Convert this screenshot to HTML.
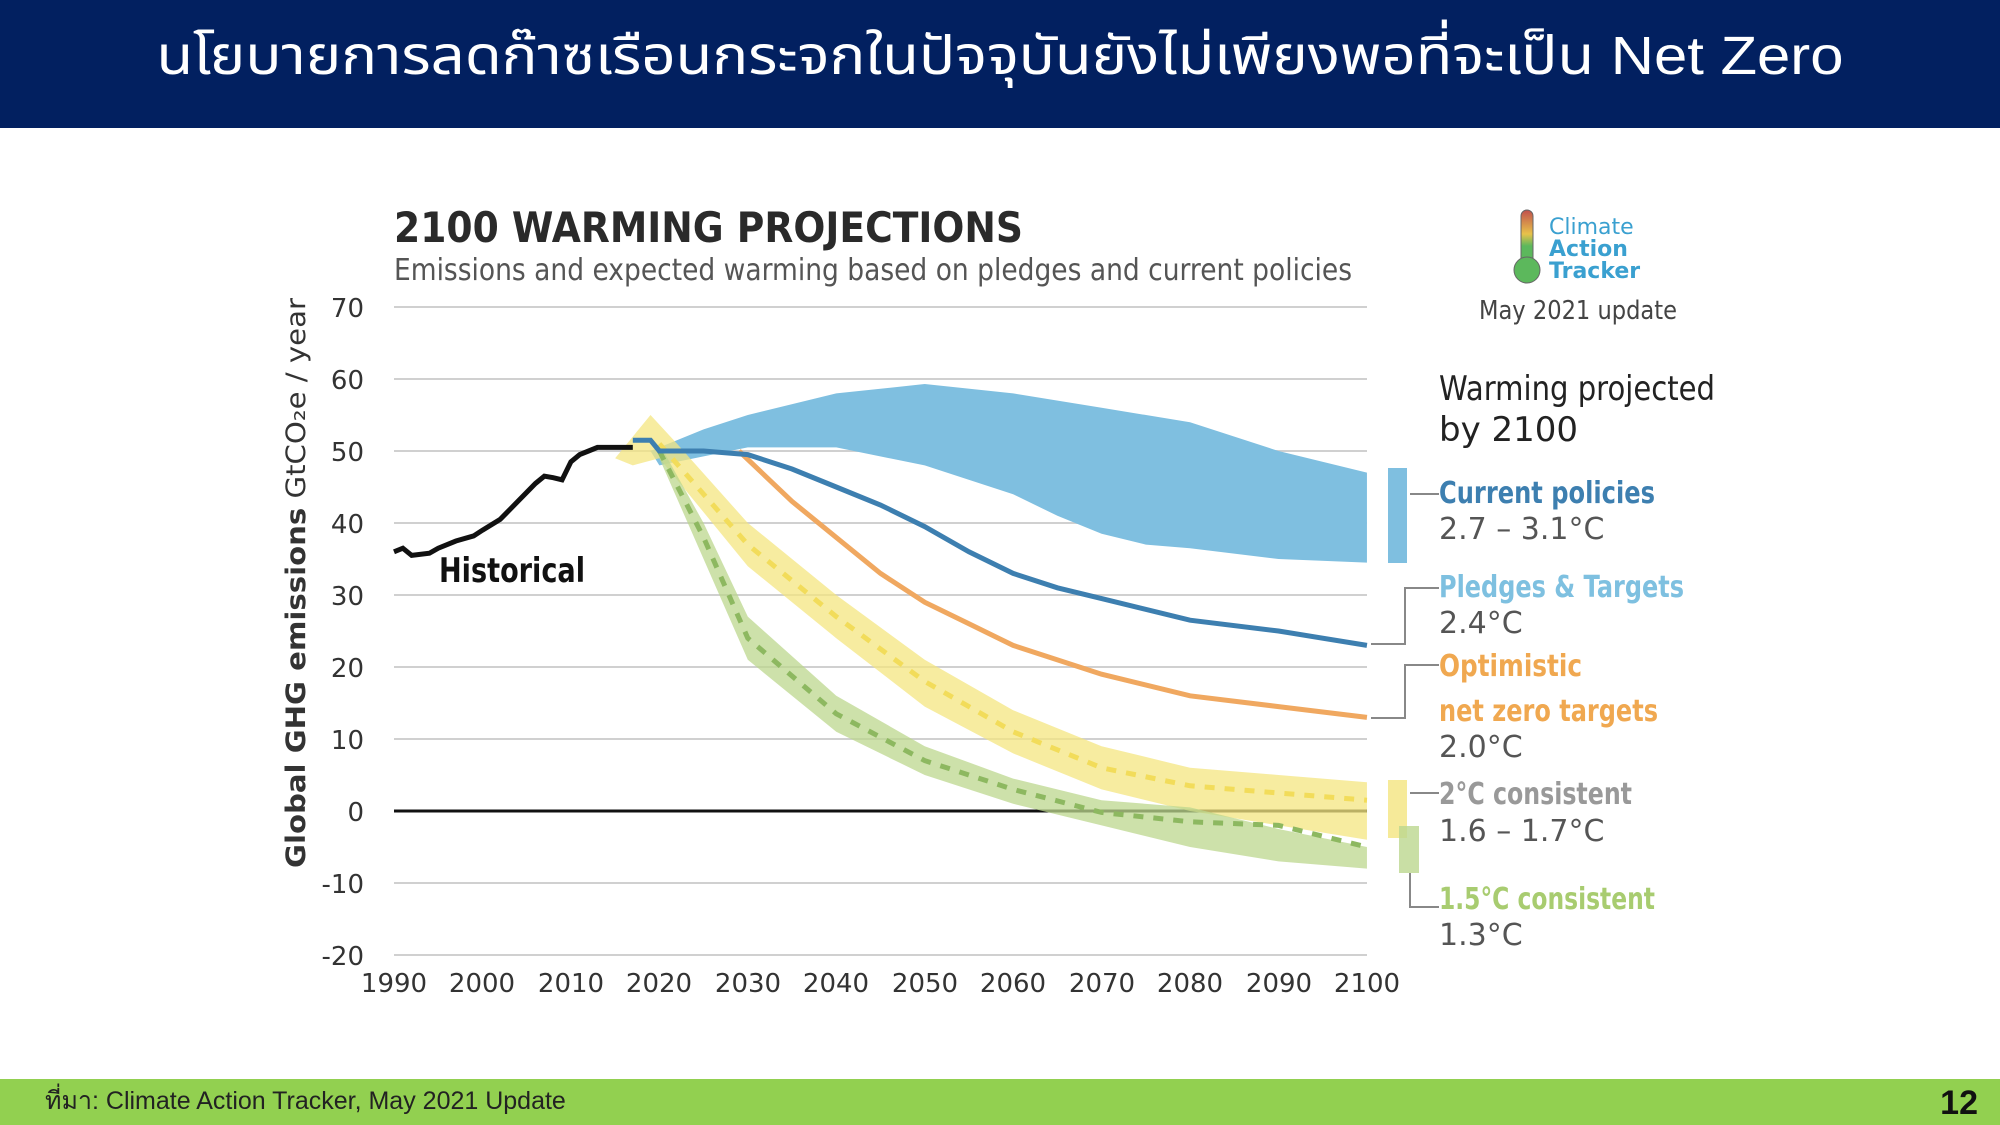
<!DOCTYPE html>
<html><head><meta charset="utf-8"><style>
html,body{margin:0;padding:0;background:#fff;}
svg{display:block;}
text{font-family:"DejaVu Sans","Liberation Sans",sans-serif;}
</style></head><body>
<svg width="2000" height="1125" viewBox="0 0 2000 1125" xmlns="http://www.w3.org/2000/svg">
<rect x="0" y="0" width="2000" height="128" fill="#022060"/>
<text x="1000" y="74" fill="#fff" font-size="54" text-anchor="middle" textLength="1687" lengthAdjust="spacingAndGlyphs" style="font-family:'Liberation Sans','Noto Sans Thai','Garuda',sans-serif">นโยบายการลดก๊าซเรือนกระจกในปัจจุบันยังไม่เพียงพอที่จะเป็น Net Zero</text>
<rect x="0" y="1079" width="2000" height="46" fill="#92d050"/>
<text x="45" y="1109" font-size="25" fill="#222" style="font-family:'Liberation Sans',sans-serif">ที่มา: Climate Action Tracker, May 2021 Update</text>
<text x="1978" y="1114" font-size="34" font-weight="bold" fill="#111" text-anchor="end" style="font-family:'Liberation Sans',sans-serif">12</text>

<text x="394" y="242" font-size="42" font-weight="bold" fill="#2a2a2a" textLength="629" lengthAdjust="spacingAndGlyphs">2100 WARMING PROJECTIONS</text>
<text x="394" y="280" font-size="30" fill="#555" textLength="958" lengthAdjust="spacingAndGlyphs">Emissions and expected warming based on pledges and current policies</text>

<g stroke="#d0d0d0" stroke-width="2">
<line x1="394" x2="1367" y1="307" y2="307"/><line x1="394" x2="1367" y1="379" y2="379"/>
<line x1="394" x2="1367" y1="451" y2="451"/><line x1="394" x2="1367" y1="523" y2="523"/>
<line x1="394" x2="1367" y1="595" y2="595"/><line x1="394" x2="1367" y1="667" y2="667"/>
<line x1="394" x2="1367" y1="739" y2="739"/><line x1="394" x2="1367" y1="883" y2="883"/>
<line x1="394" x2="1367" y1="955" y2="955"/>
</g>
<line x1="394" x2="1367" y1="811" y2="811" stroke="#111" stroke-width="3"/>
<g font-size="26" fill="#333" text-anchor="end">
<text x="364" y="317">70</text><text x="364" y="389">60</text><text x="364" y="461">50</text>
<text x="364" y="533">40</text><text x="364" y="605">30</text><text x="364" y="677">20</text>
<text x="364" y="749">10</text><text x="364" y="821">0</text><text x="364" y="893">-10</text>
<text x="364" y="965">-20</text>
</g>
<g font-size="26" fill="#333" text-anchor="middle">
<text x="394" y="992">1990</text><text x="482" y="992">2000</text><text x="571" y="992">2010</text>
<text x="659" y="992">2020</text><text x="748" y="992">2030</text><text x="836" y="992">2040</text>
<text x="925" y="992">2050</text><text x="1013" y="992">2060</text><text x="1102" y="992">2070</text>
<text x="1190" y="992">2080</text><text x="1279" y="992">2090</text><text x="1367" y="992">2100</text>
</g>
<text transform="translate(305,583) rotate(-90)" font-size="27" fill="#333" text-anchor="middle" textLength="570" lengthAdjust="spacingAndGlyphs"><tspan font-weight="bold">Global GHG emissions</tspan>  GtCO₂e / year</text>

<g transform="translate(394,307) scale(8.845,-7.2) translate(-1990,-70)">
<polygon fill="#7fbfe0" points="2019,50 2025,53 2030,55 2040,58 2050,59.3 2060,58 2070,56 2080,54 2090,50 2100,47 2100,34.5 2090,35 2080,36.5 2075,37 2070,38.5 2065,41 2060,44 2050,48 2040,50.5 2030,50.5 2020,48"/>
<polygon fill="#f4e580" opacity="0.75" points="2015,49 2017,52 2019,55 2022,51 2030,40 2040,30 2050,21 2060,14 2070,9 2080,6 2090,5 2100,4 2100,-4 2090,-2 2080,0 2070,3 2060,8 2050,14.5 2040,24 2030,34 2022,46 2020,49 2017,48"/>
<polygon fill="#bcd78e" opacity="0.75" points="2020,51 2025,40 2030,27 2040,16 2050,9 2060,4.5 2070,1.5 2080,0.5 2090,-2.5 2100,-5 2100,-8 2090,-7 2080,-5 2070,-2 2060,1 2050,5 2040,11 2030,21 2025,35 2020,49"/>
<polyline fill="none" stroke="#f2dc5a" stroke-width="5" stroke-dasharray="10,10" vector-effect="non-scaling-stroke" points="2020,51 2030,37 2040,27 2050,18 2060,11 2070,6 2080,3.5 2090,2.5 2100,1.5"/>
<polyline fill="none" stroke="#8db860" stroke-width="5" stroke-dasharray="10,10" vector-effect="non-scaling-stroke" points="2020,50 2025,38 2030,24 2040,13.5 2050,7 2060,3 2070,-0.2 2080,-1.5 2090,-2 2100,-5"/>
<polyline fill="none" stroke="#f0a860" stroke-width="5" vector-effect="non-scaling-stroke" points="2029,50 2035,43 2040,38 2045,33 2050,29 2055,26 2060,23 2070,19 2080,16 2090,14.5 2100,13"/>
<polyline fill="none" stroke="#3d7fb0" stroke-width="5" vector-effect="non-scaling-stroke" points="2017,51.5 2019,51.5 2020,50 2025,50 2030,49.5 2035,47.5 2040,45 2045,42.5 2050,39.5 2055,36 2060,33 2065,31 2070,29.5 2080,26.5 2090,25 2100,23"/>
<polyline fill="none" stroke="#111" stroke-width="5" vector-effect="non-scaling-stroke" points="1990,36 1991,36.5 1992,35.5 1994,35.8 1995,36.5 1997,37.5 1999,38.2 2000,39 2002,40.5 2004,43 2006,45.5 2007,46.5 2008,46.3 2009,46 2010,48.5 2011,49.5 2012,50 2013,50.5 2015,50.5 2017,50.5"/>
</g>
<text x="439" y="582" font-size="34" font-weight="bold" fill="#111" textLength="146" lengthAdjust="spacingAndGlyphs">Historical</text>

<rect x="1388" y="468" width="19" height="95" fill="#7fbfe0"/>
<rect x="1388" y="780" width="19" height="58" fill="#f4e580" opacity="0.8"/>
<rect x="1399" y="826" width="20" height="47" fill="#bcd78e" opacity="0.8"/>
<g stroke="#888" stroke-width="2" fill="none">
<line x1="1410" x2="1439" y1="494" y2="494"/>
<polyline points="1371,644 1405,644 1405,588 1439,588"/>
<polyline points="1371,718 1405,718 1405,665 1439,665"/>
<line x1="1410" x2="1439" y1="793" y2="793"/>
<polyline points="1410,873 1410,907 1439,907"/>
</g>
<g font-size="30">
<text x="1439" y="400" fill="#222" font-size="34" textLength="276" lengthAdjust="spacingAndGlyphs">Warming projected</text>
<text x="1439" y="441" fill="#222" font-size="34">by 2100</text>
<text x="1439" y="503" fill="#3d7fb0" font-weight="bold" textLength="216" lengthAdjust="spacingAndGlyphs">Current policies</text>
<text x="1439" y="539" fill="#555">2.7 – 3.1°C</text>
<text x="1439" y="597" fill="#7ec0e0" font-weight="bold" textLength="245" lengthAdjust="spacingAndGlyphs">Pledges &amp; Targets</text>
<text x="1439" y="633" fill="#555">2.4°C</text>
<text x="1439" y="676" fill="#f0a850" font-weight="bold" textLength="143" lengthAdjust="spacingAndGlyphs">Optimistic</text>
<text x="1439" y="721" fill="#f0a850" font-weight="bold" textLength="219" lengthAdjust="spacingAndGlyphs">net zero targets</text>
<text x="1439" y="757" fill="#555">2.0°C</text>
<text x="1439" y="804" fill="#999" font-weight="bold" textLength="193" lengthAdjust="spacingAndGlyphs">2°C consistent</text>
<text x="1439" y="841" fill="#555">1.6 – 1.7°C</text>
<text x="1439" y="909" fill="#a8cc70" font-weight="bold" textLength="216" lengthAdjust="spacingAndGlyphs">1.5°C consistent</text>
<text x="1439" y="945" fill="#555">1.3°C</text>
</g>
<defs><linearGradient id="th" x1="0" y1="0" x2="0" y2="1">
<stop offset="0" stop-color="#c0504d"/><stop offset="0.4" stop-color="#e8c24a"/><stop offset="0.6" stop-color="#5cb85c"/><stop offset="1" stop-color="#5cb85c"/></linearGradient></defs>
<rect x="1521" y="210" width="12" height="60" rx="6" fill="url(#th)" stroke="#666" stroke-width="1"/>
<circle cx="1527" cy="270" r="13" fill="#5cb85c" stroke="#666" stroke-width="1"/>
<g font-size="22" fill="#3aa0d0">
<text x="1549" y="234">Climate</text>
<text x="1549" y="256" font-weight="bold">Action</text>
<text x="1549" y="278" font-weight="bold">Tracker</text>
</g>
<text x="1578" y="319" font-size="26" fill="#444" text-anchor="middle" textLength="198" lengthAdjust="spacingAndGlyphs">May 2021 update</text>
</svg>
</body></html>
